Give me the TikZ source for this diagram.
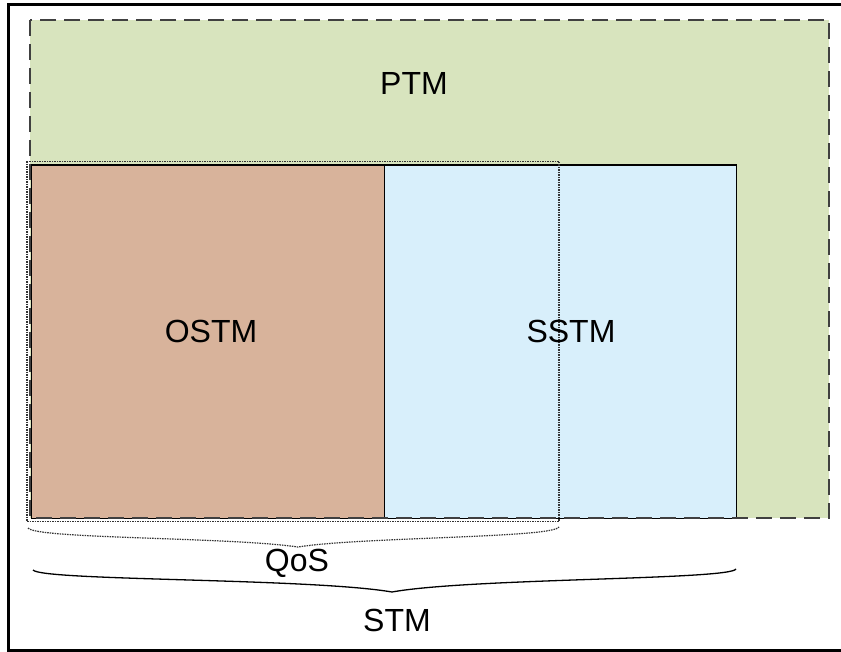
\documentclass[tikz,border=0pt]{standalone}
\usepackage{fontspec}
\setmainfont{Liberation Sans}
\begin{document}
\begin{tikzpicture}[x=1pt,y=-1pt,
  lbl/.style={font=\fontsize{32}{36}\selectfont, text=black, inner sep=0pt},
  ptmline/.style={draw=black!75, line width=2pt, dash pattern=on 16pt off 8pt},
  boxline/.style={draw=black, line width=1.2pt},
  qosline/.style={draw=black!80, line width=1.2pt, dash pattern=on 1.5pt off 1pt},
  frameline/.style={draw=black, line width=3pt}]
\definecolor{ptmgreen}{RGB}{216,228,190}
\definecolor{ostmbrown}{RGB}{216,179,155}
\definecolor{sstmblue}{RGB}{216,239,251}
\useasboundingbox (0,0) rectangle (841,652);
\fill[white] (0,0) rectangle (841,652);
\draw[frameline] (8.5,4.5) rectangle (845,650.5);
% PTM
\fill[ptmgreen] (30,20) rectangle (829,518);
% OSTM and SSTM
\node[boxline, fill=ostmbrown, minimum width=353pt, minimum height=353pt, inner sep=0pt, anchor=north west] (ostm) at (31,164.5) {};
\node[boxline, fill=sstmblue, minimum width=352pt, minimum height=353pt, inner sep=0pt, anchor=north west] (sstm) at (384,164.5) {};
\draw[ptmline] (30,20) rectangle (829,518);
\node[draw=none, minimum width=799pt, minimum height=498pt, anchor=north west] (ptm) at (30,20) {};
% dotted QoS rectangle
\draw[qosline] (27,161.5) rectangle (559,521.5);
% labels
\node[lbl] (ptmlabel) at (414,83) {PTM};
\node[lbl] (ostmlabel) at (211,331) {OSTM};
\node[lbl] (sstmlabel) at (571,331) {SSTM};
% QoS brace
\coordinate (qa) at (28,528);
\coordinate (qt) at (298,547);
\coordinate (qb) at (559,527);
\draw[qosline] (qa) .. controls (36,539) and (230,537) .. (qt)
               .. controls (360,537) and (553,538) .. (qb);
\node[lbl] (qoslabel) at (297,563) {QoS};
% STM brace
\coordinate (sa) at (33,570);
\coordinate (st) at (392,592);
\coordinate (sb) at (736,569);
\draw[black, line width=1.3pt] (sa) .. controls (42,581) and (310,578) .. (st)
               .. controls (470,578) and (730,580) .. (sb);
\node[lbl] (stmlabel) at (397,620) {STM};
\end{tikzpicture}
\end{document}
